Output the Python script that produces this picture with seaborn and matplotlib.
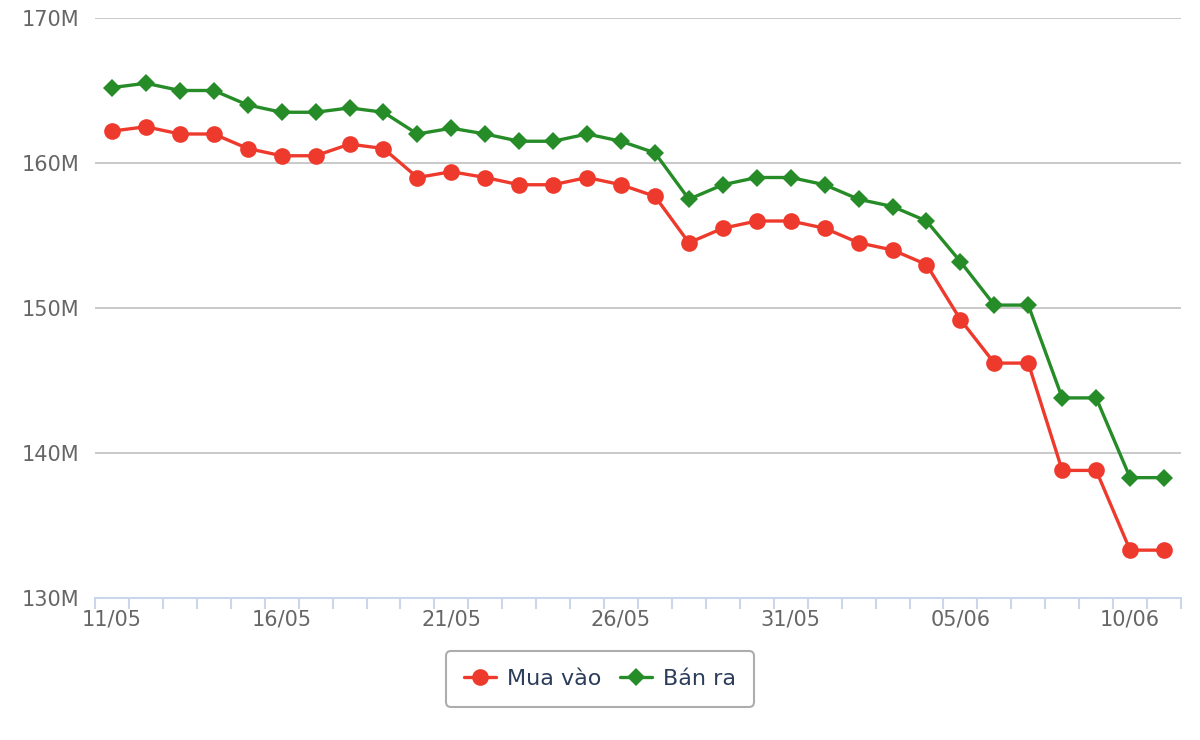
import pandas as pd
import seaborn as sns
import matplotlib.pyplot as plt
from matplotlib.ticker import FixedLocator, FuncFormatter

# days 11/05 -> 11/06
days = pd.date_range('2025-05-11', '2025-06-11').strftime('%d/%m').tolist()

# prices in million VND
mua_vao = [162.2, 162.5, 162.0, 162.0, 161.0, 160.5, 160.5, 161.3, 161.0, 159.0,
           159.4, 159.0, 158.5, 158.5, 159.0, 158.5, 157.7, 154.5, 155.5, 156.0,
           156.0, 155.5, 154.5, 154.0, 153.0, 149.2, 146.2, 146.2, 138.8, 138.8,
           133.3, 133.3]
ban_ra = [165.2, 165.5, 165.0, 165.0, 164.0, 163.5, 163.5, 163.8, 163.5, 162.0,
          162.4, 162.0, 161.5, 161.5, 162.0, 161.5, 160.7, 157.5, 158.5, 159.0,
          159.0, 158.5, 157.5, 157.0, 156.0, 153.2, 150.2, 150.2, 143.8, 143.8,
          138.3, 138.3]

RED = '#ee3a2c'
GREEN = '#268c28'

sns.set_theme(style='white')
plt.rcParams['font.family'] = ['DejaVu Sans']

fig = plt.figure(figsize=(12, 7.4), dpi=100)
ax = fig.add_axes([95 / 1200, 1 - 598 / 740, 1086 / 1200, 580 / 740])

x = list(range(len(days)))
sns.lineplot(x=x, y=mua_vao, ax=ax, color=RED, lw=2.4, marker='o', markersize=12,
             markeredgewidth=0, label='Mua vào', zorder=3)
sns.lineplot(x=x, y=ban_ra, ax=ax, color=GREEN, lw=2.4, marker='D', markersize=9,
             markeredgewidth=0, label='Bán ra', zorder=4)

ax.set_xlim(-0.5, len(days) - 0.5)
ax.set_ylim(130, 170)
ax.set_yticks([130, 140, 150, 160, 170])
ax.yaxis.set_major_formatter(FuncFormatter(lambda v, p: f'{v:.0f}M'))
ax.grid(axis='y', color='#c0c0c0', lw=1.2)
ax.set_axisbelow(True)

ax.set_xticks(x[::5])
ax.set_xticklabels(days[::5])
ax.xaxis.set_minor_locator(FixedLocator([i - 0.5 for i in range(len(days) + 1)]))
ax.tick_params(axis='x', which='major', bottom=False, length=0, pad=8, labelsize=15,
               labelcolor='#666666')
ax.tick_params(axis='x', which='minor', bottom=True, length=8, width=1.5,
               color='#ccd6eb', direction='out')
ax.tick_params(axis='y', length=0, pad=11, labelsize=15, labelcolor='#666666')

for s in ['top', 'right', 'left']:
    ax.spines[s].set_visible(False)
ax.spines['bottom'].set_color('#ccd6eb')
ax.spines['bottom'].set_linewidth(1.5)
ax.set_xlabel('')
ax.set_ylabel('')

ax.legend_.remove()
h, l = ax.get_legend_handles_labels()
leg = fig.legend(h, l, loc='center', bbox_to_anchor=(0.5, 1 - 679 / 740), ncol=2,
                 frameon=True, fontsize=16, handlelength=1.45, columnspacing=0.8,
                 handletextpad=0.5, borderpad=0.8, fancybox=True)
leg.get_frame().set_edgecolor('#999999')
leg.get_frame().set_linewidth(1.5)
for t in leg.get_texts():
    t.set_color('#2b3d5a')

fig.savefig('out.png', dpi=100, facecolor='white')
